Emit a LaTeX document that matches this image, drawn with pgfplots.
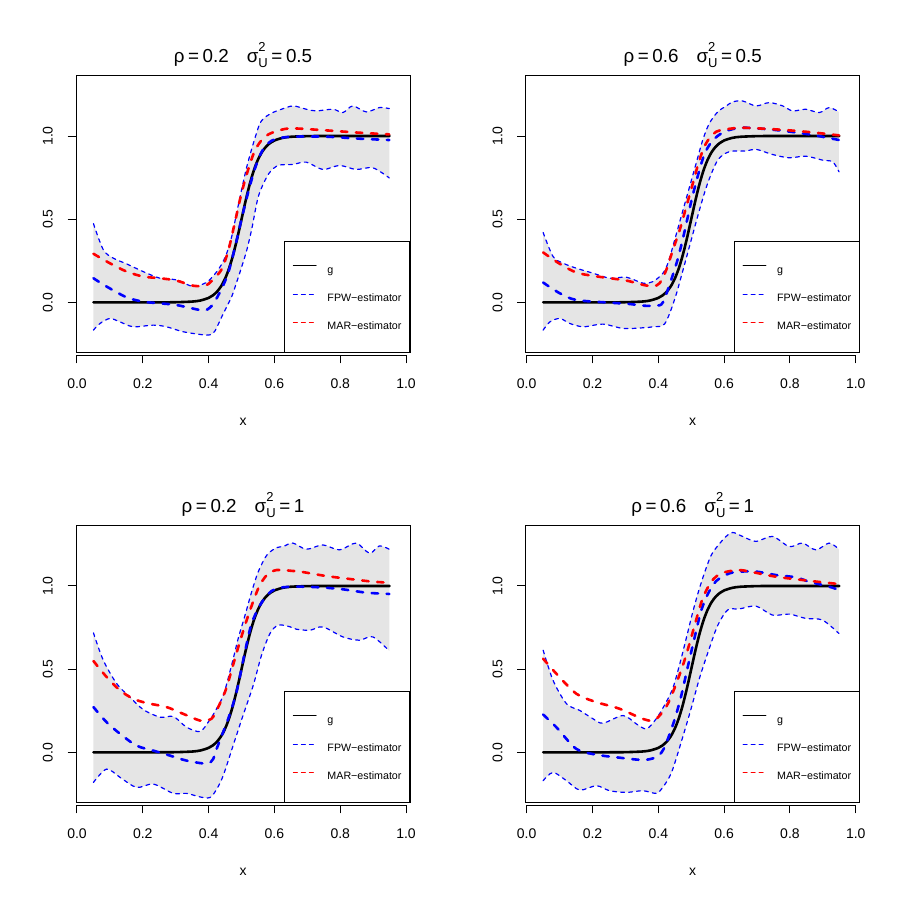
\documentclass[border=0pt]{standalone}
\usepackage{fontspec}
\setmainfont{Liberation Sans}
\usepackage{pgfplots}
\pgfplotsset{compat=1.18}
\usepackage{pgfplotstable}
\usepgfplotslibrary{fillbetween}
\definecolor{bandgray}{RGB}{229,229,229}

\newcommand\tickfont{\fontsize{7}{8.4}\selectfont}
\newcommand\legfont{\fontsize{5.35}{6.4}\selectfont}
\newcommand\titfont{\fontsize{9.4}{11.3}\selectfont}
\newcommand\ssfont{\fontsize{6.5}{7.8}\selectfont}
\newcommand\ttl[2]{ρ\hspace{1.8pt}=\hspace{1.8pt}#1\hspace{9pt}σ\rlap{\raisebox{5.4pt}{\ssfont 2}}\raisebox{-2.7pt}{\ssfont U}\hspace{1.8pt}=\hspace{1.8pt}#2}

% true curve g
\pgfplotstableread{
x y
0.05 0
0.25 0
0.30 0.0008
0.35 0.0045
0.375 0.011
0.40 0.0266
0.4125 0.0411
0.425 0.063
0.4375 0.0953
0.45 0.1419
0.4625 0.2059
0.475 0.2891
0.4875 0.3894
0.5 0.5
0.5125 0.6106
0.525 0.7109
0.5375 0.7941
0.55 0.8581
0.5625 0.9047
0.575 0.937
0.5875 0.9589
0.6 0.9734
0.625 0.989
0.65 0.9955
0.7 0.9993
0.75 1
0.95 1
}\gtab

% ---------- panel A: rho=0.2, s2=0.5
\pgfplotstableread{
x y
0.050 0.473
0.080 0.316
0.110 0.266
0.151 0.231
0.201 0.185
0.252 0.145
0.302 0.135
0.353 0.095
0.393 0.119
0.410 0.150
0.425 0.185
0.440 0.230
0.455 0.295
0.470 0.394
0.485 0.535
0.500 0.675
0.516 0.815
0.536 0.956
0.556 1.076
0.575 1.118
0.596 1.142
0.616 1.157
0.656 1.181
0.697 1.161
0.727 1.151
0.778 1.161
0.808 1.141
0.838 1.181
0.879 1.145
0.919 1.171
0.949 1.165
}\upA
\pgfplotstableread{
x y
0.050 -0.167
0.070 -0.127
0.100 -0.097
0.130 -0.117
0.171 -0.147
0.232 -0.137
0.272 -0.147
0.323 -0.177
0.393 -0.197
0.414 -0.185
0.425 -0.150
0.445 -0.066
0.470 0.034
0.485 0.120
0.500 0.210
0.516 0.314
0.531 0.440
0.551 0.635
0.577 0.755
0.597 0.805
0.617 0.826
0.656 0.829
0.697 0.843
0.747 0.799
0.798 0.823
0.848 0.799
0.899 0.809
0.949 0.748
}\loA
\pgfplotstableread{
x y
0.050 0.145
0.090 0.095
0.151 0.030
0.201 0.004
0.252 -0.006
0.302 -0.016
0.373 -0.046
0.393 -0.046
0.414 -0.010
0.440 0.084
0.460 0.180
0.480 0.330
0.500 0.500
0.520 0.660
0.540 0.800
0.560 0.900
0.580 0.955
0.606 0.984
0.656 0.996
0.757 0.996
0.858 0.984
0.949 0.976
}\fpA
\pgfplotstableread{
x y
0.050 0.292
0.100 0.235
0.151 0.185
0.201 0.155
0.252 0.145
0.302 0.131
0.353 0.100
0.393 0.103
0.419 0.150
0.440 0.200
0.460 0.312
0.480 0.482
0.500 0.657
0.520 0.797
0.540 0.910
0.561 0.975
0.582 1.010
0.617 1.036
0.656 1.046
0.757 1.034
0.858 1.020
0.949 1.010
}\maA

% ---------- panel B: rho=0.6, s2=0.5
\pgfplotstableread{
x y
0.050 0.420
0.080 0.276
0.111 0.235
0.151 0.205
0.202 0.175
0.253 0.145
0.303 0.151
0.354 0.115
0.384 0.125
0.414 0.175
0.430 0.240
0.449 0.370
0.475 0.555
0.495 0.695
0.515 0.836
0.535 0.976
0.555 1.076
0.581 1.146
0.606 1.180
0.626 1.205
0.656 1.211
0.697 1.181
0.737 1.201
0.778 1.181
0.808 1.151
0.848 1.161
0.889 1.141
0.919 1.171
0.949 1.145
}\upB
\pgfplotstableread{
x y
0.050 -0.167
0.071 -0.117
0.101 -0.097
0.131 -0.127
0.172 -0.147
0.232 -0.131
0.293 -0.157
0.354 -0.153
0.384 -0.147
0.419 -0.130
0.449 0.014
0.475 0.194
0.500 0.375
0.525 0.555
0.550 0.716
0.581 0.856
0.616 0.906
0.667 0.910
0.697 0.920
0.747 0.889
0.798 0.869
0.848 0.879
0.899 0.855
0.930 0.845
0.949 0.785
}\loB
\pgfplotstableread{
x y
0.050 0.119
0.101 0.054
0.151 0.014
0.253 -0.002
0.313 -0.010
0.354 -0.020
0.394 -0.020
0.414 0.000
0.440 0.140
0.460 0.267
0.480 0.428
0.500 0.606
0.520 0.760
0.540 0.890
0.560 0.960
0.580 1.000
0.606 1.030
0.656 1.050
0.757 1.036
0.858 1.010
0.949 0.976
}\fpB
\pgfplotstableread{
x y
0.050 0.300
0.101 0.231
0.151 0.179
0.202 0.159
0.253 0.145
0.303 0.131
0.354 0.105
0.384 0.097
0.404 0.115
0.424 0.194
0.444 0.314
0.465 0.435
0.485 0.575
0.505 0.716
0.525 0.856
0.545 0.956
0.576 1.026
0.626 1.046
0.656 1.050
0.757 1.040
0.858 1.024
0.949 1.004
}\maB

% ---------- panel C: rho=0.2, s2=1
\pgfplotstableread{
x y
0.050 0.718
0.080 0.553
0.121 0.412
0.161 0.332
0.202 0.256
0.253 0.211
0.293 0.215
0.333 0.151
0.374 0.125
0.400 0.185
0.419 0.244
0.445 0.345
0.470 0.525
0.490 0.685
0.511 0.826
0.531 0.966
0.551 1.086
0.577 1.186
0.606 1.230
0.626 1.237
0.656 1.258
0.697 1.221
0.747 1.247
0.798 1.217
0.848 1.258
0.889 1.197
0.919 1.241
0.949 1.221
}\upC
\pgfplotstableread{
x y
0.050 -0.181
0.090 -0.101
0.131 -0.151
0.181 -0.211
0.232 -0.191
0.293 -0.247
0.333 -0.247
0.373 -0.268
0.404 -0.272
0.425 -0.220
0.445 -0.137
0.475 0.044
0.505 0.224
0.536 0.405
0.561 0.585
0.587 0.716
0.612 0.765
0.647 0.755
0.667 0.740
0.708 0.734
0.747 0.754
0.808 0.694
0.858 0.674
0.899 0.694
0.949 0.610
}\loC
\pgfplotstableread{
x y
0.050 0.272
0.090 0.181
0.131 0.111
0.181 0.040
0.232 0.010
0.283 -0.020
0.333 -0.050
0.394 -0.068
0.414 -0.040
0.425 0.024
0.460 0.204
0.485 0.364
0.510 0.600
0.530 0.770
0.555 0.880
0.580 0.950
0.606 0.985
0.656 0.996
0.737 0.992
0.808 0.980
0.879 0.960
0.949 0.952
}\fpC
\pgfplotstableread{
x y
0.050 0.549
0.090 0.453
0.131 0.372
0.171 0.322
0.212 0.296
0.272 0.272
0.323 0.231
0.373 0.191
0.394 0.194
0.414 0.214
0.450 0.364
0.470 0.495
0.495 0.665
0.521 0.826
0.551 0.986
0.577 1.066
0.607 1.096
0.658 1.090
0.677 1.087
0.757 1.060
0.838 1.040
0.899 1.026
0.949 1.020
}\maC

% ---------- panel D: rho=0.6, s2=1
\pgfplotstableread{
x y
0.050 0.614
0.080 0.433
0.121 0.292
0.161 0.252
0.202 0.201
0.232 0.175
0.293 0.221
0.333 0.171
0.364 0.141
0.393 0.200
0.419 0.284
0.444 0.385
0.465 0.530
0.485 0.686
0.505 0.846
0.525 0.986
0.545 1.106
0.561 1.186
0.580 1.240
0.606 1.298
0.626 1.322
0.656 1.298
0.697 1.268
0.747 1.298
0.798 1.237
0.838 1.258
0.879 1.217
0.919 1.258
0.949 1.221
}\upD
\pgfplotstableread{
x y
0.050 -0.171
0.080 -0.121
0.121 -0.171
0.161 -0.227
0.212 -0.201
0.252 -0.231
0.303 -0.241
0.353 -0.231
0.393 -0.247
0.410 -0.220
0.439 -0.127
0.470 0.064
0.500 0.265
0.525 0.445
0.555 0.625
0.581 0.765
0.611 0.856
0.646 0.862
0.697 0.879
0.747 0.825
0.798 0.831
0.848 0.805
0.899 0.795
0.949 0.714
}\loD
\pgfplotstableread{
x y
0.050 0.227
0.090 0.151
0.151 0.020
0.211 -0.014
0.272 -0.030
0.353 -0.046
0.393 -0.030
0.410 0.000
0.424 0.054
0.450 0.200
0.470 0.343
0.490 0.518
0.510 0.688
0.530 0.850
0.550 0.950
0.576 1.030
0.616 1.076
0.656 1.087
0.697 1.087
0.757 1.066
0.818 1.052
0.858 1.026
0.919 0.996
0.949 0.976
}\fpD
\pgfplotstableread{
x y
0.050 0.563
0.090 0.473
0.151 0.352
0.211 0.302
0.282 0.262
0.353 0.201
0.389 0.194
0.424 0.274
0.449 0.385
0.475 0.525
0.495 0.655
0.515 0.796
0.535 0.926
0.561 1.026
0.591 1.076
0.641 1.096
0.677 1.087
0.757 1.056
0.838 1.036
0.909 1.020
0.949 1.012
}\maD

\pgfplotsset{
  rpanel/.style={
    scale only axis, width=167pt, height=138.7pt, anchor=south west,
    xmin=-0.003, xmax=1.012, ymin=-0.304, ymax=1.364,
    clip=false,
    axis line style={line width=0.5pt},
    tick align=outside, major tick length=4.15pt,
    every tick/.style={black, line width=0.5pt},
    xtick={0,0.2,0.4,0.6,0.8,1}, ytick={0,0.5,1},
    xtick pos=bottom, ytick pos=left,
    xtick style={yshift=-1.15pt},
    scaled ticks=false,
    ticklabel style={font=\tickfont, /pgf/number format/fixed, /pgf/number format/fixed zerofill, /pgf/number format/precision=1, /pgf/number format/assume math mode=true},
    xticklabel style={anchor=center, yshift=-11.15pt},
    yticklabel style={anchor=center, xshift=-9.9pt, rotate=90},
    xlabel={x},
    xlabel style={font=\tickfont, at={(axis description cs:0.5,0)}, anchor=center, yshift=-34.6pt},
    title style={font=\titfont, at={(axis description cs:0.5,1)}, anchor=base, yshift=0.5pt},
    legend cell align=left,
    legend style={at={(1,0)}, anchor=south east, draw=black, line width=0.5pt, fill=white,
      inner xsep=4pt, inner ysep=10.2pt, row sep=7.5pt, column sep=5.35pt,
      font=\legfont, nodes={inner sep=0pt, text height=4.45pt, text depth=1pt}},
    legend image code/.code={\path[draw=none] (0pt,0pt) -- (0pt,4pt); \draw[#1] (0pt,1.9pt) -- (11.35pt,1.9pt);},
  },
  gline/.style={black, line width=1.3pt, line cap=round},
  est/.style={line width=1.3pt, dash pattern=on 3.2pt off 4.3pt, line cap=round},
  bandline/.style={blue, line width=0.6pt, dash pattern=on 1.9pt off 2.1pt, line cap=round},
}

\newcommand\panel[7]{%
\begin{axis}[rpanel, at={(#1,#2)}, title={#3}]
\addplot[draw=none, smooth, forget plot, name path=U] table {#4};
\addplot[draw=none, smooth, forget plot, name path=L] table {#5};
\addplot[fill=bandgray, draw=none, forget plot] fill between[of=U and L];
\addplot[bandline, smooth, forget plot] table {#4};
\addplot[bandline, smooth, forget plot] table {#5};
\addplot[gline, smooth, forget plot] table {\gtab};
\addplot[est, blue, smooth, forget plot] table {#6};
\addplot[est, red, smooth, forget plot] table {#7};
\addlegendimage{black, line width=0.55pt, line cap=round}
\addlegendentry{g}
\addlegendimage{blue, line width=0.6pt, dash pattern=on 1.9pt off 2.1pt, line cap=round}
\addlegendentry{FPW−estimator}
\addlegendimage{red, line width=0.6pt, dash pattern=on 1.9pt off 2.1pt, line cap=round}
\addlegendentry{MAR−estimator}
\draw[line width=0.5pt] ([yshift=-1.15pt]axis cs:0,-0.304) -- ([yshift=-1.15pt]axis cs:1,-0.304);
\end{axis}}

\begin{document}
\begin{tikzpicture}
\path (0,0) rectangle (449.5pt,449.5pt);
\panel{38pt}{273.05pt}{\ttl{0.2}{0.5}}{\upA}{\loA}{\fpA}{\maA}
\panel{262.85pt}{273.05pt}{\ttl{0.6}{0.5}}{\upB}{\loB}{\fpB}{\maB}
\panel{38pt}{48.07pt}{\ttl{0.2}{1}}{\upC}{\loC}{\fpC}{\maC}
\panel{262.85pt}{48.07pt}{\ttl{0.6}{1}}{\upD}{\loD}{\fpD}{\maD}
\end{tikzpicture}
\end{document}
